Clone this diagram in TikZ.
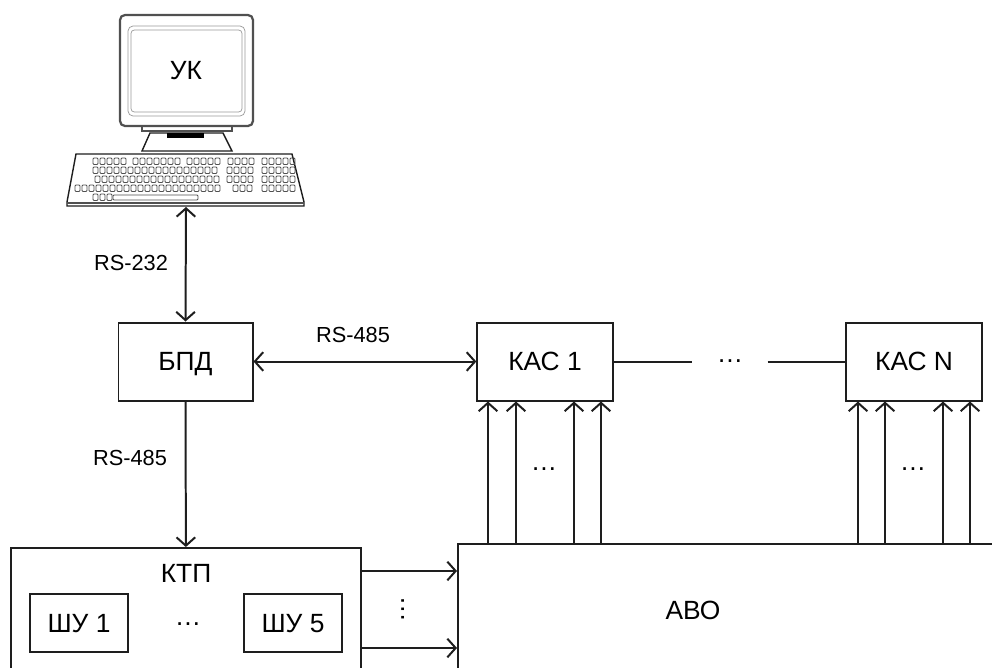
\documentclass[tikz,border=0pt]{standalone}
\usepackage{fontspec}
\setmainfont{Liberation Sans}
\definecolor{linegray}{RGB}{30,30,30}
\definecolor{keygray}{RGB}{80,80,80}
\usetikzlibrary{arrows.meta,positioning}

\begin{document}
\begin{tikzpicture}[x=0.3mm,y=-0.3mm]
  \tikzstyle{unit}=[rectangle,draw=linegray,line width=1.7pt,fill=white,align=center,text height=16pt,text depth=0pt,font=\fontsize{22.5}{26}\selectfont]
  \tikzstyle{caption}=[inner sep=0pt,font=\fontsize{22.5}{26}\selectfont]
  \tikzstyle{bus}=[inner sep=0pt,font=\fontsize{18.6}{22}\selectfont]
  \tikzstyle{link}=[linegray,line width=1.7pt]
  \tikzstyle{duplex}=[link,{Straight Barb[length=2.5mm,width=5.6mm]}-{Straight Barb[length=2.5mm,width=5.6mm]}]
  \tikzstyle{simplex}=[link,-{Straight Barb[length=2.5mm,width=5.6mm]}]
  \tikzstyle{keycap}=[keygray,line width=0.7pt,rounded corners=0.3mm]
  \useasboundingbox (0,0) rectangle (992,667);
  \clip (0,0) rectangle (992,667);
  % monitor
  \fill[white] (0,0) rectangle (992,667);
  \draw[keygray,line width=1pt,fill=white] (142,126) -- (142,131) -- (232,131) -- (232,126);
  \draw[linegray,line width=1.2pt,fill=white] (150,133) -- (223,133) -- (232,151) -- (142,151) -- cycle;
  \fill[black] (167,133) rectangle (204,138);
  \draw[keygray,line width=1.9pt,fill=white,rounded corners=1.5mm] (120,15) rectangle (253,126);
  \draw[gray!80,line width=0.6pt,rounded corners=1.5mm] (128,26) rectangle (245,116);
  \draw[gray!80,line width=0.6pt,rounded corners=1mm] (131,30) rectangle (242,112);
  \node[caption] (uk) at (186,71) {УК};
  % keyboard
  \draw[linegray,line width=1.2pt,fill=white] (76,154) -- (292,154) -- (304,202) -- (304,206) -- (67,206) -- (67,202) -- cycle;
  \draw[keygray,line width=1.6pt] (67,203) -- (304,203);
  \foreach \ky/\kl/\kr in {158/93/125,158/133/175,158/187/217,158/228/250,158/262/292,
                           167/93/212,167/227/250,167/262/290,
                           176/95/217,176/227/250,176/262/290,
                           185/75/217,185/233/250,185/262/292,
                           194/93/110}{
    \pgfmathsetmacro\kn{\kl+7}
    \foreach \kx in {\kl,\kn,...,\kr} \draw[keycap] (\kx,\ky) rectangle +(5,6.5);
  }
  \draw[keycap] (113,195) rectangle (198,200);
  \coordinate (kbd) at (186,207);
  % units
  \node[unit,minimum width=40.2mm,minimum height=23.4mm] (bpd) at (185.5,361.5) {БПД};
  \node[unit,minimum width=40.6mm,minimum height=23.4mm] (kas1) at (545,361.5) {КАС 1};
  \node[unit,minimum width=40.6mm,minimum height=23.4mm] (kasN) at (914,361.5) {КАС N};
  \node[caption,minimum width=22.5mm] (kasdots) at (730,361.5) {\raisebox{-2pt}{…}};
  \node[unit,minimum width=105mm,minimum height=45.6mm] (ktp) at (186,624) {};
  \node[unit,minimum width=165.6mm,minimum height=46.8mm] (abo) at (734,622) {};
  \node[caption] (ktptext) at (186,573) {КТП};
  \node[caption] (abotext) at (693,610) {АВО};
  \node[unit,minimum width=29.4mm,minimum height=17.4mm] (shu1) at (79,623) {ШУ 1};
  \node[unit,minimum width=29.4mm,minimum height=17.4mm] (shu5) at (293,623) {ШУ 5};
  \node[caption] (shudots) at (188,624) {…};
  \node[caption,rotate=90] (ktpdots) at (403,609) {…};
  \node[caption] (dots1) at (544,469) {…};
  \node[caption] (dotsN) at (913,469) {…};
  \node[bus] (rs232) at (131,263) {RS-232};
  \node[bus] (rs485a) at (353,335) {RS-485};
  \node[bus] (rs485b) at (130,458) {RS-485};
  % connectors
  \draw[duplex] (kbd) -- (bpd.north);
  \draw[duplex] (bpd) -- (kas1);
  \draw[simplex] (bpd) -- (ktp);
  \draw[link] (kas1) -- (kasdots);
  \draw[link] (kasdots) -- (kasN);
  \foreach \x in {488,516,574,601} \draw[simplex] (abo.north -| \x,0) -- (kas1.south -| \x,0);
  \foreach \x in {858,885,943,970} \draw[simplex] (abo.north -| \x,0) -- (kasN.south -| \x,0);
  \foreach \y in {571,648} \draw[simplex] (ktp.east |- 0,\y) -- (abo.west |- 0,\y);
\end{tikzpicture}
\end{document}
